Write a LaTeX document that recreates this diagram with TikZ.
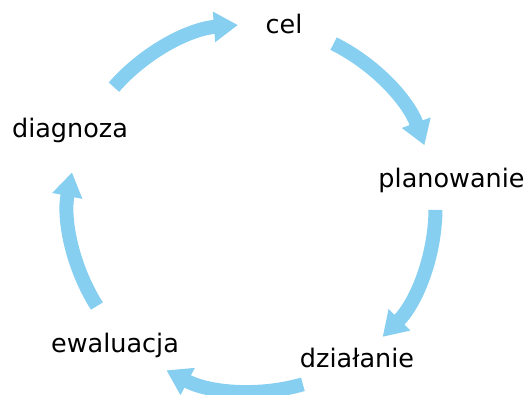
\documentclass[tikz,border=0pt]{standalone}
\usepackage{fontspec}
\setmainfont{DejaVu Sans}
\usetikzlibrary{arrows.meta}
\definecolor{cycblue}{RGB}{135,207,240}
\begin{document}
\begin{tikzpicture}[x=1bp,y=1bp,
  lbl/.style={font=\fontsize{25.5bp}{30bp}\selectfont, anchor=base, inner sep=0pt},
  cyc/.style={draw=cycblue, line width=14bp, -{Triangle[length=24bp,width=29bp]}}]
\useasboundingbox (0,0) rectangle (530,394);
\coordinate (C) at (252,186);
\node[lbl] (cel) at (284,361) {cel};
\node[lbl] (plan) at (451.5,207) {planowanie};
\node[lbl] (dzial) at (357,27) {działanie};
\node[lbl] (ewal) at (115,42) {ewaluacja};
\node[lbl] (diag) at (70,257) {diagnoza};
\draw[cyc] ([shift={(138.8:183.5bp)}]C) arc[start angle=138.8, end angle=94.4, radius=183.5bp];
\draw[cyc] ([shift={(63.6:183.5bp)}]C) arc[start angle=63.6, end angle=20.0, radius=183.5bp];
\draw[cyc] ([shift={(-0.6:183.5bp)}]C) arc[start angle=-0.6, end angle=-44.6, radius=183.5bp];
\draw[cyc] ([shift={(-73.9:183.5bp)}]C) arc[start angle=-73.9, end angle=-117.8, radius=183.5bp];
\draw[cyc] ([shift={(-147.7:183.5bp)}]C) arc[start angle=-147.7, end angle=-191.2, radius=183.5bp];
\end{tikzpicture}
\end{document}
